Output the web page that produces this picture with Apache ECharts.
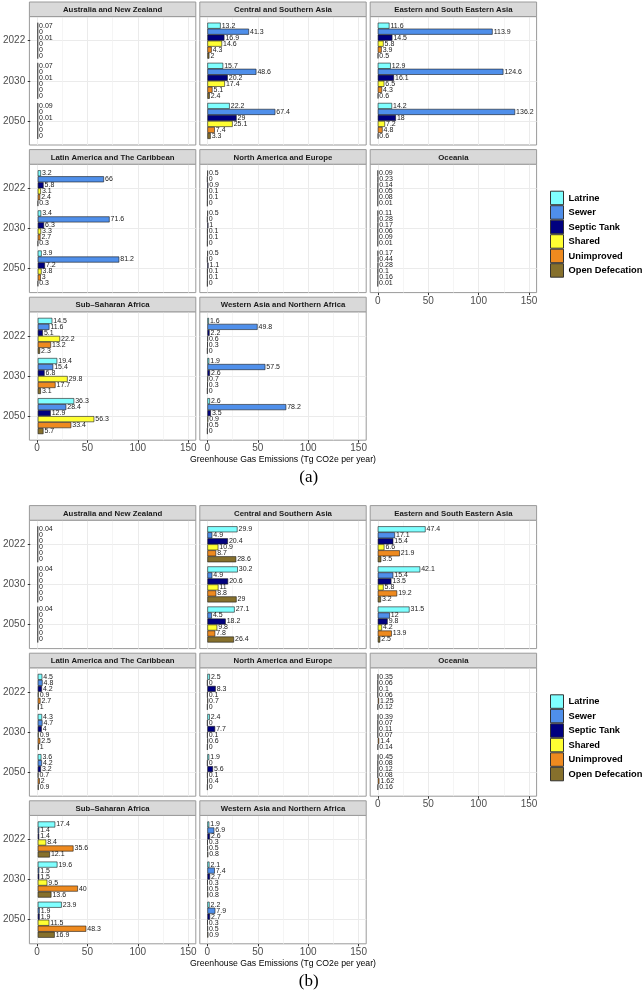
<!DOCTYPE html>
<html><head><meta charset="utf-8">
<script src="https://cdn.jsdelivr.net/npm/echarts@6/dist/echarts.min.js"></script>
<style>html,body{margin:0;padding:0;background:#fff}#c{width:644px;height:992px}</style>
</head><body><div id="c"></div>
<script>
// ---- categories / labels ----
const years = ['2022', '2030', '2050'];
const systems = ['Latrine', 'Sewer', 'Septic Tank', 'Shared', 'Unimproved', 'Open Defecation'];
const regions = ['Australia and New Zealand', 'Central and Southern Asia', 'Eastern and South Eastern Asia',
  'Latin America and The Caribbean', 'North America and Europe', 'Oceania',
  'Sub\u2013Saharan Africa', 'Western Asia and Northern Africa'];
const xTicks = [0, 50, 100, 150];
const xMinorTicks = [25, 75, 125];
const axisTitle = 'Greenhouse Gas Emissions (Tg CO2e per year)';
const panelLabels = ['(a)', '(b)'];

// ---- values: rows = years (2022, 2030, 2050), columns = systems ----
// figure (a)
const a_ANZ  = [[0.07, 0, 0.01, 0, 0, 0], [0.07, 0, 0.01, 0, 0, 0], [0.09, 0, 0.01, 0, 0, 0]];
const a_CSA  = [[13.2, 41.3, 16.9, 14.6, 4.3, 2], [15.7, 48.6, 20.2, 17.4, 5.1, 2.4], [22.2, 67.4, 29, 25.1, 7.4, 3.3]];
const a_ESEA = [[11.6, 113.9, 14.5, 5.8, 3.9, 0.5], [12.9, 124.6, 16.1, 6.5, 4.3, 0.6], [14.2, 136.2, 18, 7.2, 4.8, 0.6]];
const a_LAC  = [[3.2, 66, 5.8, 3.1, 2.4, 0.3], [3.4, 71.6, 6.3, 3.3, 2.7, 0.3], [3.9, 81.2, 7.2, 3.8, 3, 0.3]];
const a_NAE  = [[0.5, 0, 0.9, 0.1, 0.1, 0], [0.5, 0, 1, 0.1, 0.1, 0], [0.5, 0, 1.1, 0.1, 0.1, 0]];
const a_OCE  = [[0.09, 0.23, 0.14, 0.05, 0.08, 0.01], [0.11, 0.28, 0.17, 0.06, 0.09, 0.01], [0.17, 0.44, 0.28, 0.1, 0.16, 0.01]];
const a_SSA  = [[14.5, 11.6, 5.1, 22.2, 13.2, 2.3], [19.4, 15.4, 6.8, 29.8, 17.7, 3.1], [36.3, 28.4, 12.9, 56.3, 33.4, 5.7]];
const a_WANA = [[1.6, 49.8, 2.2, 0.6, 0.3, 0], [1.9, 57.5, 2.6, 0.7, 0.3, 0], [2.6, 78.2, 3.5, 0.9, 0.5, 0]];
// figure (b)
const b_ANZ  = [[0.04, 0, 0, 0, 0, 0], [0.04, 0, 0, 0, 0, 0], [0.04, 0, 0, 0, 0, 0]];
const b_CSA  = [[29.9, 4.9, 20.4, 10.9, 8.7, 28.6], [30.2, 4.9, 20.6, 11, 8.8, 29], [27.1, 4.5, 18.2, 9.8, 7.8, 26.4]];
const b_ESEA = [[47.4, 17.1, 15.4, 6.6, 21.9, 3.5], [42.1, 15.4, 13.5, 5.8, 19.2, 3.2], [31.5, 12, 9.8, 4.2, 13.9, 2.5]];
const b_LAC  = [[4.5, 4.8, 4.2, 0.9, 2.7, 1], [4.3, 4.7, 4, 0.9, 2.5, 1], [3.6, 4.2, 3.2, 0.7, 2, 0.9]];
const b_NAE  = [[2.5, 0, 8.3, 0.1, 0.7, 0], [2.4, 0, 7.7, 0.1, 0.6, 0], [1.9, 0, 5.6, 0.1, 0.4, 0]];
const b_OCE  = [[0.35, 0.06, 0.1, 0.06, 1.25, 0.12], [0.39, 0.07, 0.11, 0.07, 1.4, 0.14], [0.45, 0.08, 0.12, 0.08, 1.62, 0.16]];
const b_SSA  = [[17.4, 1.4, 1.4, 8.4, 35.6, 12.1], [19.6, 1.5, 1.5, 9.5, 40, 13.6], [23.9, 1.9, 1.9, 11.5, 48.3, 16.9]];
const b_WANA = [[1.9, 6.9, 2.6, 0.3, 0.5, 0.8], [2.1, 7.4, 2.7, 0.3, 0.5, 0.8], [2.2, 7.9, 2.7, 0.3, 0.5, 0.9]];

const figA = [a_ANZ, a_CSA, a_ESEA, a_LAC, a_NAE, a_OCE, a_SSA, a_WANA];
const figB = [b_ANZ, b_CSA, b_ESEA, b_LAC, b_NAE, b_OCE, b_SSA, b_WANA];

// ---- styles / layout ----
const colors = ['#7FFFFF', '#4F8FEA', '#00007F', '#FFFF33', '#EE8A1F', '#86702C'];
const FONT = 'Liberation Sans, Arial, sans-serif';
const colLeft = [29.4, 199.8, 370.2];
const panelW = 166.4;
const figTop = [2, 505.6];
const rowPitch = 147.6;
const stripH = 14.6;
const panelH = 128.4;
const xMin = -7.5, xMax = 157.5;

const grid = [], xAxis = [], yAxis = [], series = [], graphic = [];

[figA, figB].forEach((fig, f) => {
  fig.forEach((vals, i) => {
    const row = Math.floor(i / 3), col = i % 3;
    const left = colLeft[col];
    const stripTop = figTop[f] + row * rowPitch;
    const pTop = stripTop + stripH;
    const unit = panelH / 3.2;
    const hasX = (row === 2) || (row === 1 && col === 2);
    const hasY = col === 0;

    // strip
    graphic.push({ type: 'rect', shape: { x: left, y: stripTop, width: panelW, height: stripH },
      style: { fill: '#d9d9d9', stroke: '#9a9a9a', lineWidth: 1 }, z: 1 });
    graphic.push({ type: 'text', x: left + panelW / 2, y: stripTop + stripH / 2 + 0.5,
      style: { text: regions[i], fill: '#1a1a1a', font: 'bold 7.8px ' + FONT, textAlign: 'center', textVerticalAlign: 'middle' }, z: 2 });

    // panel grid (background + gridlines)
    const gA = grid.length;
    grid.push({ left: left, top: pTop, width: panelW, height: panelH, show: true,
      backgroundColor: '#fff', borderColor: '#9a9a9a', borderWidth: 1, containLabel: false });
    xAxis.push({ gridIndex: gA, type: 'value', min: xMin, max: xMax, position: 'bottom',
      axisLine: { show: false, onZero: false },
      axisTick: { show: hasX, customValues: xTicks, length: 2.5, lineStyle: { color: '#333', width: 1 } },
      axisLabel: { show: hasX, customValues: xTicks, fontSize: 10, color: '#4d4d4d', margin: 3.5, fontFamily: FONT },
      splitLine: { show: true, lineStyle: { color: '#ebebeb', width: 1 } } });
    xAxis.push({ gridIndex: gA, type: 'value', min: xMin, max: xMax, position: 'top',
      axisLine: { show: false, onZero: false },
      axisTick: { show: false, customValues: xMinorTicks },
      axisLabel: { show: false },
      splitLine: { show: true, lineStyle: { color: '#f0f0f0', width: 0.7 } } });
    yAxis.push({ gridIndex: gA, type: 'value', min: -0.6, max: 2.6, inverse: true,
      axisLine: { show: false, onZero: false },
      axisTick: { show: false, customValues: [0, 1, 2] },
      axisLabel: { show: false },
      splitLine: { show: true, lineStyle: { color: '#ebebeb', width: 1 } } });

    // bar grid
    const gB = grid.length;
    grid.push({ left: left, top: pTop + 0.1 * unit, width: panelW, height: 3 * unit, containLabel: false });
    const xB = xAxis.length;
    xAxis.push({ gridIndex: gB, type: 'value', min: xMin, max: xMax, show: false, axisLine: { onZero: false } });
    const yB = yAxis.length;
    yAxis.push({ gridIndex: gB, type: 'category', data: years, inverse: true,
      axisLine: { show: false, onZero: false },
      axisTick: { show: hasY, alignWithLabel: true, length: 2.5, lineStyle: { color: '#333', width: 1 } },
      axisLabel: { show: hasY, fontSize: 10, color: '#4d4d4d', margin: 5, fontFamily: FONT },
      splitLine: { show: false } });

    systems.forEach((s, k) => {
      series.push({
        type: 'bar', name: s, xAxisIndex: xB, yAxisIndex: yB,
        data: years.map((y, j) => vals[j][k]),
        barWidth: 6, barGap: '0%',
        itemStyle: { color: colors[k], borderColor: '#1a1a1a', borderWidth: 0.6 },
        label: { show: true, position: 'right', distance: 1, fontSize: 7, lineHeight: 7,
          color: '#1a1a1a', fontFamily: FONT, formatter: p => String(p.value) },
        silent: true
      });
    });
  });

  // axis title + panel label
  graphic.push({ type: 'text', x: 283, y: figTop[f] + 458, style: { text: axisTitle, fill: '#000',
    font: '8.7px ' + FONT, textAlign: 'center', textVerticalAlign: 'middle' } });
  graphic.push({ type: 'text', x: 308.7, y: figTop[f] + 476, style: { text: panelLabels[f], fill: '#000',
    font: '17px Liberation Serif, Times New Roman, serif', textAlign: 'center', textVerticalAlign: 'middle' } });
});

const legends = figTop.map(t => ({
  orient: 'vertical', left: 550, top: t + 188.7, padding: 0, itemGap: 0,
  itemWidth: 13, itemHeight: 13.5, icon: 'rect', selectedMode: false,
  data: systems,
  itemStyle: { borderColor: '#333', borderWidth: 1 },
  textStyle: { fontSize: 9.3, fontWeight: 'bold', color: '#000', fontFamily: FONT }
}));

const chart = echarts.init(document.getElementById('c'), null, { renderer: 'canvas' });
chart.setOption({
  animation: false,
  textStyle: { fontFamily: FONT },
  color: colors,
  grid, xAxis, yAxis, series, graphic,
  legend: legends
});
</script></body></html>
